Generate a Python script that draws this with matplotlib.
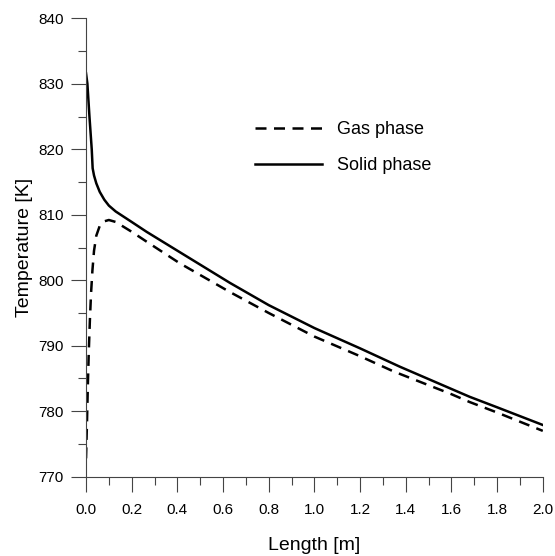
import matplotlib
matplotlib.use("Agg")
import matplotlib.pyplot as plt
from matplotlib.ticker import MultipleLocator, FormatStrFormatter

plt.rcParams["font.family"] = ["Liberation Sans", "DejaVu Sans"]

# Temperature profiles along the bed
length_gas = [0.0, 0.004, 0.008, 0.012, 0.017, 0.022, 0.028, 0.035, 0.045,
              0.06, 0.08, 0.1, 0.13, 0.2, 0.265, 0.41, 0.63, 0.8, 1.0,
              1.2, 1.345, 1.6, 1.68, 1.8, 2.0]
temp_gas = [772.8, 778.0, 784.0, 789.0, 794.0, 798.0, 801.5, 804.5, 806.8,
            808.3, 809.0, 809.2, 808.9, 807.4, 805.9, 802.6, 798.2, 795.0, 791.4,
            788.4, 786.1, 782.6, 781.4, 779.8, 777.0]

length_solid = [0.0, 0.006, 0.015, 0.025, 0.029, 0.035, 0.045, 0.06, 0.08,
                0.1, 0.13, 0.2, 0.265, 0.41, 0.63, 0.8, 1.0, 1.2, 1.374,
                1.6, 1.68, 1.8, 2.0]
temp_solid = [831.6, 830.0, 825.0, 820.0, 817.1, 816.0, 814.8, 813.5, 812.3,
              811.4, 810.5, 808.9, 807.4, 804.3, 799.6, 796.2, 792.7, 789.6, 786.8,
              783.4, 782.2, 780.6, 777.9]

fig = plt.figure(figsize=(5.55, 5.56), dpi=100)
ax = fig.add_axes([0.155, 0.1426, 0.823, 0.8245])

ax.plot(length_gas, temp_gas, color="black", lw=1.8,
        linestyle=(0, (4.4, 3.0)), label="Gas phase")
ax.plot(length_solid, temp_solid, color="black", lw=1.8, label="Solid phase")

ax.set_xlim(0, 2.0)
ax.set_ylim(770, 840)

for side in ("top", "right"):
    ax.spines[side].set_visible(False)
for side in ("left", "bottom"):
    ax.spines[side].set_color("#444444")
    ax.spines[side].set_linewidth(0.8)

ax.xaxis.set_major_locator(MultipleLocator(0.2))
ax.xaxis.set_minor_locator(MultipleLocator(0.1))
ax.xaxis.set_major_formatter(FormatStrFormatter("%.1f"))
ax.yaxis.set_major_locator(MultipleLocator(10))
ax.yaxis.set_minor_locator(MultipleLocator(5))

ax.tick_params(which="major", length=11, width=0.8, color="#444444",
               labelsize=11, direction="out")
ax.tick_params(which="minor", length=6, width=0.8, color="#444444",
               direction="out")
ax.tick_params(axis="x", which="major", pad=8)
ax.tick_params(axis="y", which="major", pad=5)

ax.set_xlabel("Length [m]", fontsize=14, labelpad=14)
ax.set_ylabel("Temperature [K]", fontsize=14, labelpad=4)

ax.legend(loc="upper left", bbox_to_anchor=(0.37, 0.775), frameon=False,
          fontsize=13, handlelength=3.7, handletextpad=0.85,
          labelspacing=1.05, borderpad=0, borderaxespad=0)

fig.savefig("out.png", dpi=100)
